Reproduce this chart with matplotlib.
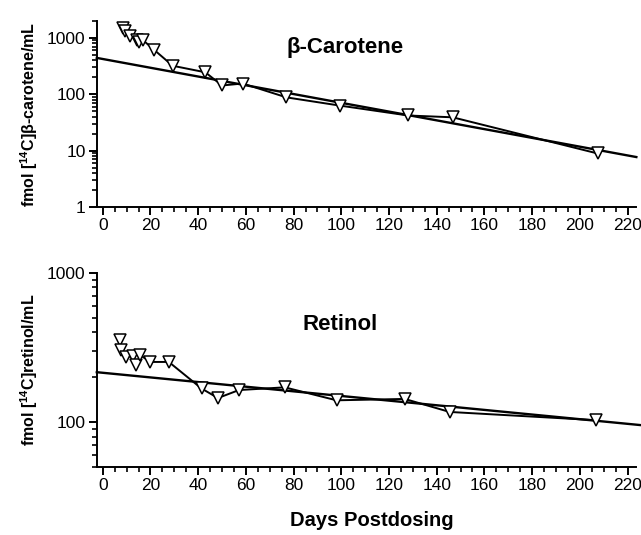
import numpy as np
import matplotlib
matplotlib.use("Agg")
import matplotlib.pyplot as plt
from matplotlib.ticker import LogLocator, FuncFormatter, MultipleLocator, NullFormatter

plt.rcParams["font.family"] = ["Liberation Sans", "DejaVu Sans"]
plt.rcParams["mathtext.fontset"] = "custom"
plt.rcParams["mathtext.rm"] = "Liberation Sans"
plt.rcParams["mathtext.bf"] = "Liberation Sans:bold"

# beta-carotene (top panel)
bc_days = [8.4, 9.2, 11.3, 14.2, 15.0, 17.0, 21.4, 29.3, 43.0, 50.0, 58.7, 77.0, 99.3, 128.0, 146.7, 207.5]
bc_vals = [1500, 1330, 1100, 930, 860, 900, 620, 320, 245, 143, 155, 88, 63, 42, 39, 8.9]
bc_fit_days = [-2.5, 223.7]
bc_fit_vals = [441, 7.7]

# retinol (bottom panel)
ret_days = [7.1, 7.8, 9.9, 12.6, 13.8, 15.8, 20.0, 27.7, 41.4, 48.3, 57.1, 76.3, 98.0, 126.6, 145.4, 206.9]
ret_vals = [353, 303, 273, 276, 240, 280, 253, 253, 168, 145, 164, 171, 140, 143, 117, 103]
ret_fit_days = [-2.5, 225.5]
ret_fit_vals = [216, 95.5]

fig = plt.figure(figsize=(6.41, 5.35), dpi=100)
ax1 = fig.add_axes([0.151, 0.613, 0.841, 0.348])
ax2 = fig.add_axes([0.151, 0.127, 0.841, 0.363])


def style(ax, ylo, yhi):
    ax.set_yscale("log")
    ax.set_ylim(ylo, yhi)
    ax.set_xlim(-2.5, 223.5)
    for s in ["top", "right"]:
        ax.spines[s].set_visible(False)
    for s in ["left", "bottom"]:
        ax.spines[s].set_linewidth(1.4)
    ax.xaxis.set_major_locator(MultipleLocator(20))
    ax.xaxis.set_minor_locator(MultipleLocator(5))
    ax.yaxis.set_major_locator(LogLocator(base=10))
    ax.yaxis.set_minor_locator(LogLocator(base=10, subs=np.arange(2, 10)))
    ax.yaxis.set_major_formatter(FuncFormatter(lambda v, p: "%g" % v))
    ax.yaxis.set_minor_formatter(NullFormatter())
    ax.tick_params(which="major", length=6, width=1.4, labelsize=12.5, pad=2)
    ax.tick_params(which="minor", length=3.5, width=1.2)


def plot_panel(ax, days, vals, fit_d, fit_v):
    ax.plot(fit_d, fit_v, color="black", lw=1.7, clip_on=False, zorder=2)
    ax.plot(days, vals, color="black", lw=1.4, marker="v", markersize=8.5,
            markerfacecolor="white", markeredgecolor="black", markeredgewidth=1.1,
            zorder=3)


style(ax1, 1, 2000)
plot_panel(ax1, bc_days, bc_vals, bc_fit_days, bc_fit_vals)
ax1.set_ylabel(r"fmol [$^{\mathbf{14}}$C]β-carotene/mL", fontsize=11.5, fontweight="bold", labelpad=5)
ax1.text(0.46, 0.855, "β-Carotene", transform=ax1.transAxes, fontsize=16,
         fontweight="bold", ha="center", va="center")

style(ax2, 50, 1000)
plot_panel(ax2, ret_days, ret_vals, ret_fit_days, ret_fit_vals)
ax2.set_ylabel(r"fmol [$^{\mathbf{14}}$C]retinol/mL", fontsize=11.5, fontweight="bold", labelpad=5)
ax2.text(0.451, 0.732, "Retinol", transform=ax2.transAxes, fontsize=16,
         fontweight="bold", ha="center", va="center")
ax2.set_xlabel("Days Postdosing", fontsize=14.5, fontweight="bold")
ax2.xaxis.set_label_coords(0.51, -0.225)

fig.savefig("out.png", dpi=100)
